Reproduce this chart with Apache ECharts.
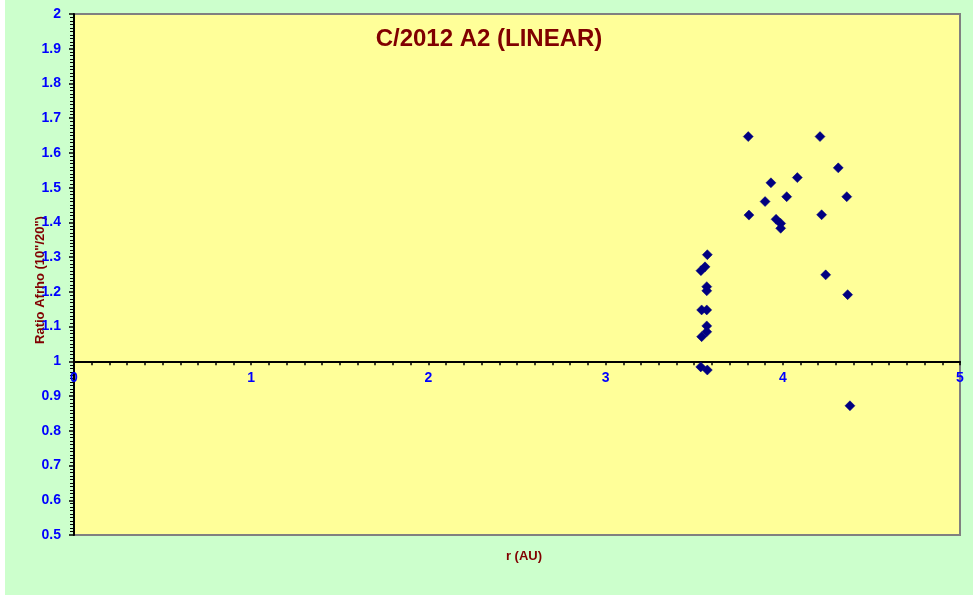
<!DOCTYPE html>
<html>
<head>
<meta charset="utf-8">
<script src="https://cdn.jsdelivr.net/npm/echarts@6/dist/echarts.min.js"></script>
<style>
html,body{margin:0;padding:0;background:#ffffff;width:977px;height:600px;overflow:hidden;}
#chart{position:absolute;left:5px;top:0;width:968px;height:595px;}
</style>
</head>
<body>
<div id="chart"></div>
<script>
const chartTitle = 'C/2012 A2 (LINEAR)';
const xAxisName = 'r (AU)';
const yAxisName = 'Ratio Afrho (10"/20")';
const rValues = [3.805, 4.210, 4.313, 4.082, 3.933, 4.361, 4.022, 3.900, 3.809, 4.219, 3.962, 3.988, 3.988,
  3.574, 3.561, 3.538, 3.571, 3.571, 3.542, 3.571, 3.571, 3.571, 3.542, 3.537, 3.574, 4.242, 4.366, 4.379];
const ratioValues = [1.647, 1.647, 1.557, 1.529, 1.514, 1.474, 1.474, 1.460, 1.421, 1.422, 1.409, 1.397, 1.383,
  1.307, 1.272, 1.261, 1.215, 1.203, 1.148, 1.148, 1.102, 1.085, 1.071, 0.984, 0.975, 1.249, 1.192, 0.872];

const points = rValues.map((r, i) => [r, ratioValues[i]]);
const chart = echarts.init(document.getElementById('chart'), null, {renderer: 'canvas'});
const font = 'Arial, "Liberation Sans", sans-serif';
const gridTop = 14, gridBottom = 60;
const plotH = 595 - gridTop - gridBottom;
const yMin = 0.5, yMax = 2, xCross = 1;
const offset = -plotH * (xCross - yMin) / (yMax - yMin);

chart.setOption({
  backgroundColor: '#CCFFCC',
  animation: false,
  title: {
    text: chartTitle, left: 479, top: 34, textAlign: 'center', textVerticalAlign: 'middle',
    textStyle: {color: '#800000', fontSize: 24, fontWeight: 'bold', fontFamily: font}
  },
  grid: {
    left: 69, right: 13, top: gridTop, bottom: gridBottom,
    show: true, backgroundColor: '#FFFF99', borderColor: '#808080', borderWidth: 2
  },
  xAxis: {
    type: 'value', min: 0, max: 5, interval: 1, position: 'bottom', offset: offset,
    axisLine: {onZero: false, lineStyle: {color: '#000000', width: 2}},
    axisTick: {show: true, length: 4, lineStyle: {color: '#000', width: 1.5}},
    minorTick: {show: true, splitNumber: 10, length: 4, lineStyle: {color: '#000', width: 1.5}},
    splitLine: {show: false},
    axisLabel: {color: '#0000FF', fontSize: 14, fontWeight: 'bold', fontFamily: font, margin: 10}
  },
  yAxis: {
    type: 'value', min: yMin, max: yMax, interval: 0.1,
    axisLine: {show: true, lineStyle: {color: '#000000', width: 2}},
    axisTick: {show: true, length: 5, lineStyle: {color: '#000', width: 1.5}},
    minorTick: {show: true, splitNumber: 10, length: 4, lineStyle: {color: '#000', width: 1}},
    splitLine: {show: false},
    axisLabel: {color: '#0000FF', fontSize: 14, fontWeight: 'bold', fontFamily: font, margin: 13,
      formatter: v => String(Math.round(v * 10) / 10)}
  },
  graphic: [
    {type: 'text', x: 519, y: 556, style: {text: xAxisName, fill: '#800000',
      font: 'bold 13px ' + font, textAlign: 'center', textVerticalAlign: 'middle'}},
    {type: 'text', x: 35, y: 280, rotation: Math.PI / 2, style: {text: yAxisName, fill: '#800000',
      font: 'bold 13px ' + font, textAlign: 'center', textVerticalAlign: 'middle'}}
  ],
  series: [{
    type: 'scatter', data: points, symbol: 'diamond', symbolSize: 10,
    itemStyle: {color: '#000080', borderColor: '#000080', borderWidth: 0.5, opacity: 1}
  }]
});
</script>
</body>
</html>
